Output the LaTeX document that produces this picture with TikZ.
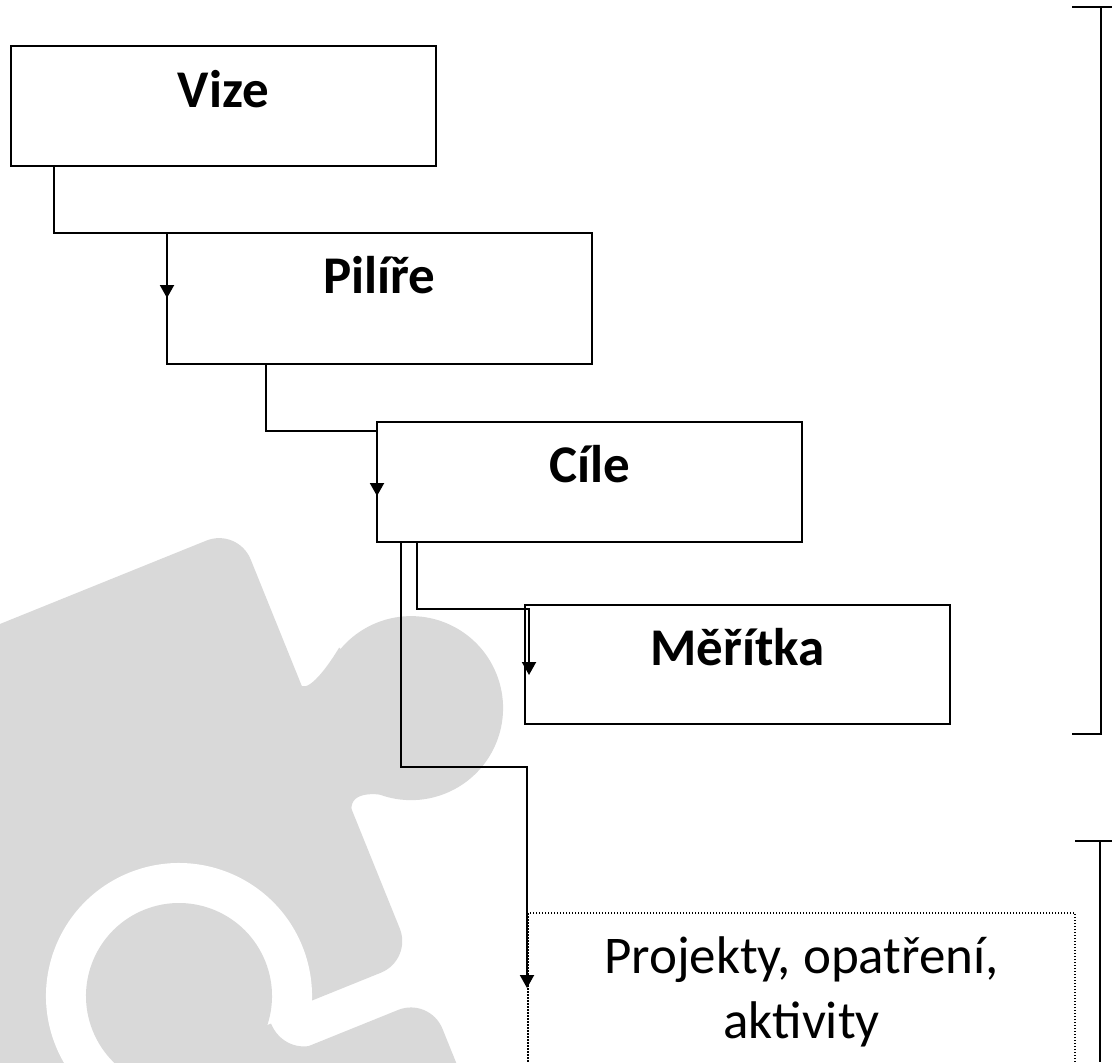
\documentclass[tikz,border=0pt]{standalone}
\usepackage{fontspec}
\setmainfont{Carlito}
\usetikzlibrary{arrows.meta,calc}
\definecolor{puzzlegrey}{HTML}{D9D9D9}
\begin{document}
\begin{tikzpicture}[x=0.5pt,y=-0.5pt,
  box/.style={draw=black, line width=1pt, fill=white, rectangle, inner sep=0pt, outer sep=0pt, minimum width=212.5pt},
  dotbox/.style={draw=black, line width=0.75pt, dash pattern=on 0.75pt off 0.75pt, fill=white, rectangle, inner sep=0pt, outer sep=0pt},
  lbl/.style={font=\bfseries\fontsize{26.5pt}{32.5pt}\selectfont, anchor=base, inner sep=0pt},
  plainlbl/.style={font=\fontsize{26.5pt}{32.5pt}\selectfont, anchor=base, inner sep=0pt},
  conn/.style={draw=black, line width=1pt, -{Triangle[width=7pt,length=6.5pt]}},
  brk/.style={draw=black, line width=1.1pt},
  puz/.style={fill=puzzlegrey}]
\useasboundingbox (0,0) rectangle (1112,1062);
\clip (0,0) rectangle (1112,1062);
\fill[white] (0,0) rectangle (1112,1062);
% background puzzle pieces
\begin{scope}[shift={(179,996)}, rotate=22]
  % upper piece
  \fill[puz, rounded corners=17pt] (-700,-412) -- (230,-412) -- (230,54) -- (-700,54) -- cycle;
  \fill[puz] (323,-180) circle (92);
  \fill[puz] (228,-245) .. controls (230,-232) and (255,-245) .. (279,-263) -- (323,-180) -- (273,-105) .. controls (250,-120) and (230,-125) .. (228,-100) -- cycle;
  % socket
  \fill[white] (0,0) circle (133);
  % lower piece
  \fill[puz, rounded corners=17pt] (-700,95) -- (232,95) -- (232,800) -- (-700,800) -- cycle;
  \fill[puz] (0,0) circle (93);
  \fill[puz] (-110,96) .. controls (-90,96) and (-75,80) .. (-75,60) -- (75,60) .. controls (75,80) and (90,96) .. (110,96) -- cycle;
\end{scope}
% boxes
\node[box, minimum height=60pt] (vize) at (223.5,106) {};
\node[box, minimum height=65.5pt] (pilire) at (379.5,298.5) {};
\node[box, minimum height=60pt] (cile) at (589.5,482) {};
\node[box, minimum height=59.5pt] (meritka) at (737.5,664.5) {};
\node[dotbox, minimum width=273.5pt, minimum height=93.5pt] (proj) at (801.5,1006.5) {};
% labels
\node[lbl] (vizeT) at (223.5,107) {Vize};
\node[lbl] (pilireT) at (379.5,293) {Pilíře};
\node[lbl] (cileT) at (589.5,482) {Cíle};
\node[lbl] (meritkaT) at (737.5,665) {Měřítka};
\node[plainlbl] (projT) at (801.5,973) {\begin{tabular}[t]{@{}c@{}}Projekty, opatření,\\aktivity\end{tabular}};
% connectors
\draw[conn] ($(vize.south west)+(43,0)$) |- (pilire.north west) -- ($(pilire.north west)+(0,65)$);
\draw[conn] ($(pilire.south west)+(99,0)$) |- ($(cile.north west)+(0,9)$) -- ($(cile.north west)+(0,74)$);
\draw[conn] ($(cile.south west)+(40,0)$) |- ($(meritka.north west)+(4,4)$) -- ($(meritka.north west)+(4,70)$);
\draw[conn] ($(cile.south west)+(24,0)$) |- ($(proj.north west)+(-1,-146)$) -- ($(proj.north west)+(-1,75)$);
% brackets
\coordinate (b1t) at (1101,7);
\coordinate (b1b) at (1101,734);
\coordinate (b2t) at (1100,841);
\coordinate (b2b) at (1100,1062);
\draw[brk] (1072,7) -- (1112,7);
\draw[brk] (b1t) -- (b1b) -- (1072,734);
\draw[brk] (1075,841) -- (1112,841);
\draw[brk] (b2t) -- (b2b);
\end{tikzpicture}
\end{document}
